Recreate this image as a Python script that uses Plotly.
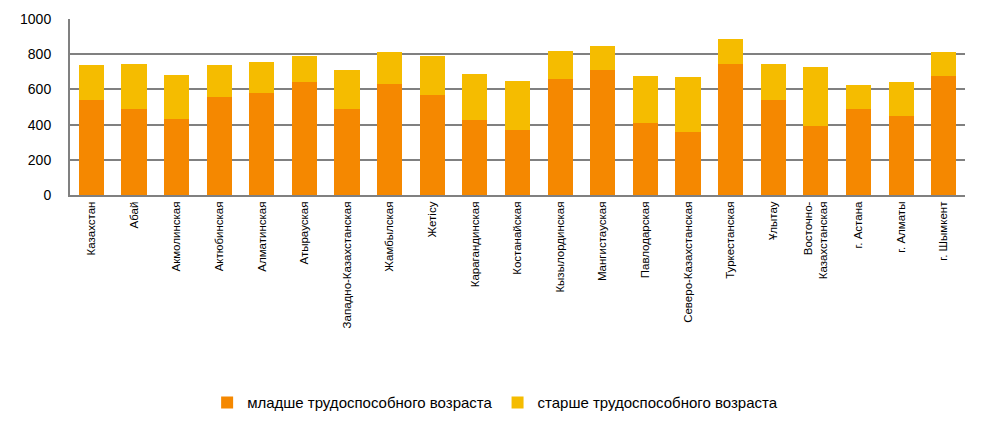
import plotly.graph_objects as go

categories = ["Казахстан", "Абай", "Акмолинская", "Актюбинская", "Алматинская", "Атырауская",
              "Западно-Казахстанская", "Жамбылская", "Жетісу", "Карагандинская", "Костанайская",
              "Кызылординская", "Мангистауская", "Павлодарская", "Северо-Казахстанская",
              "Туркестанская", "Ұлытау", "Восточно-<br>Казахстанская", "г. Астана", "г. Алматы",
              "г. Шымкент"]
younger = [541, 490, 433, 558, 580, 643, 490, 631, 569, 427, 371, 660, 711, 410, 359, 745, 541, 393, 490, 450, 677]
total = [739, 745, 682, 739, 756, 790, 711, 813, 790, 688, 648, 819, 847, 677, 671, 887, 745, 728, 626, 643, 813]
older = [t - y for t, y in zip(total, younger)]

fig = go.Figure()
fig.add_trace(go.Bar(x=categories, y=younger, name="младше трудоспособного возраста",
                     marker=dict(color="#F58800", line=dict(width=0))))
fig.add_trace(go.Bar(x=categories, y=older, name="старше трудоспособного возраста",
                     marker=dict(color="#F5BC00", line=dict(width=0))))

# page body has an 8px default margin, so margins are offset accordingly
fig.update_layout(
    barmode="stack", bargap=0.41,
    width=992, height=430,
    margin=dict(l=62, r=35, t=11, b=243, autoexpand=False),
    plot_bgcolor="white", paper_bgcolor="white",
    font=dict(family="Liberation Sans, Arial, sans-serif", size=13, color="black"),
    legend=dict(orientation="h", x=0.475, xanchor="center", y=-1.18, yanchor="middle",
                font=dict(size=15), itemwidth=30, traceorder="normal"),
    showlegend=True,
)
fig.update_xaxes(tickangle=-90, showline=True, linecolor="#808080", linewidth=2,
                 ticks="", automargin=False,
                 tickfont=dict(size=11.5))
fig.update_yaxes(range=[0, 1000], dtick=200, showgrid=True, gridcolor="#808080", gridwidth=2,
                 showline=True, linecolor="#808080", linewidth=2, zeroline=False, automargin=False,
                 tickfont=dict(size=14), ticks="outside", ticklen=14, tickcolor="white")

fig.write_html("out.html")
